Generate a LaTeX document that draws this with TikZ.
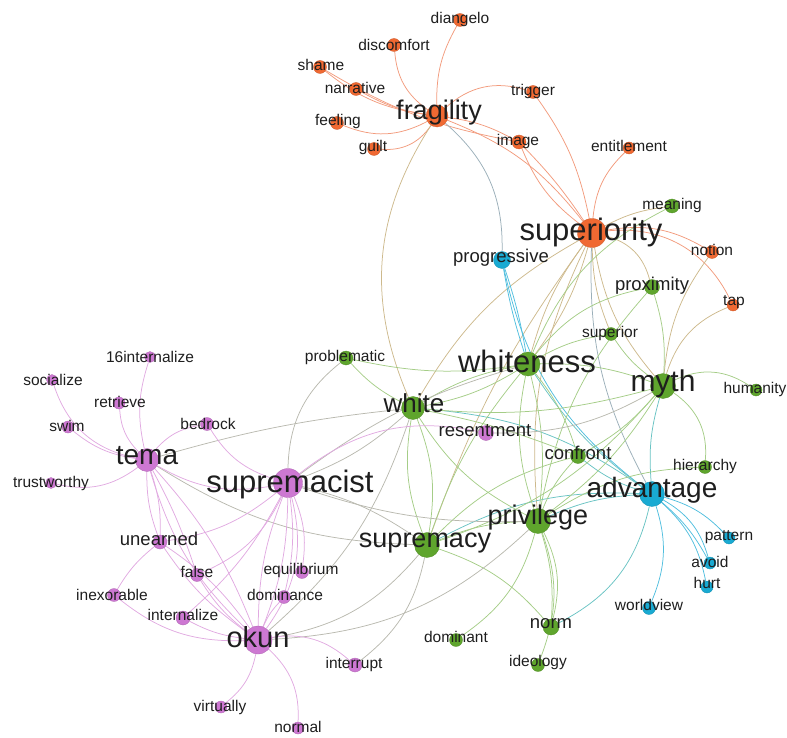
\documentclass[tikz,border=0pt]{standalone}
\usepackage{fontspec}
\setmainfont{Liberation Sans}
\pgfdeclarelayer{edges}
\pgfsetlayers{edges,main}
\definecolor{corange}{RGB}{240,105,50}
\definecolor{cgreen}{RGB}{95,165,45}
\definecolor{cblue}{RGB}{25,170,210}
\definecolor{cpurple}{RGB}{205,120,210}
\definecolor{txt}{RGB}{30,30,30}
\definecolor{eoc}{RGB}{242,155,125}
\definecolor{egc}{RGB}{165,205,135}
\definecolor{etc}{RGB}{205,185,140}
\definecolor{epc}{RGB}{225,170,225}
\definecolor{egrc}{RGB}{185,185,175}
\definecolor{etlc}{RGB}{105,195,195}
\definecolor{ebc}{RGB}{80,190,222}
\definecolor{eboc}{RGB}{155,175,185}
\begin{document}
\begin{tikzpicture}[x=1pt,y=-1pt,
  nd/.style={circle,inner sep=0pt,minimum size=#1,line width=0.3pt},
  on/.style={nd=#1,fill=corange,draw=corange!85!black},
  gn/.style={nd=#1,fill=cgreen,draw=cgreen!85!black},
  bn/.style={nd=#1,fill=cblue,draw=cblue!85!black},
  pn/.style={nd=#1,fill=cpurple,draw=cpurple!85!black},
  ls/.style={font=\fontsize{15.5}{15.5}\selectfont,text=txt,inner sep=0pt},
  lm/.style={font=\fontsize{18.5}{18.5}\selectfont,text=txt,inner sep=0pt},
  lb/.style={font=\fontsize{#1}{#1}\selectfont,text=txt,inner sep=0pt},
  ed/.style={line width=0.75pt},
  eo/.style={ed,draw=eoc},
  eg/.style={ed,draw=egc},
  et/.style={ed,draw=etc},
  ep/.style={ed,draw=epc},
  egr/.style={ed,draw=egrc},
  etl/.style={ed,draw=etlc},
  eb/.style={ed,draw=ebc},
  ebo/.style={ed,draw=eboc}]
\useasboundingbox (0,0) rectangle (787,738);
% ---------- nodes: orange
\node[on=22] (fragility) at (437,116) {};
\node[on=13] (diangelo) at (460,20) {};
\node[on=13] (discomfort) at (394,45) {};
\node[on=13] (shame) at (320,67) {};
\node[on=13] (narrative) at (356,89) {};
\node[on=13] (feeling) at (337,123) {};
\node[on=13] (guilt) at (374,149) {};
\node[on=13] (trigger) at (533,92) {};
\node[on=14] (image) at (519,142) {};
\node[on=12] (entitlement) at (629,148) {};
\node[on=29] (superiority) at (592,233) {};
\node[on=13] (notion) at (712,252) {};
\node[on=12] (tap) at (733,305) {};
% blue
\node[bn=17] (progressive) at (502,260) {};
\node[bn=25] (advantage) at (652,494) {};
\node[bn=12] (pattern) at (729,538) {};
\node[bn=12] (avoid) at (710,563) {};
\node[bn=12] (hurt) at (707,587) {};
\node[bn=13] (worldview) at (649,608) {};
% green
\node[gn=14] (meaning) at (672,206) {};
\node[gn=15] (proximity) at (652,287) {};
\node[gn=13] (superior) at (611,334) {};
\node[gn=24] (whiteness) at (528,364) {};
\node[gn=25] (myth) at (663,386) {};
\node[gn=12] (humanity) at (756,390) {};
\node[gn=14] (problematic) at (346,358) {};
\node[gn=23] (white) at (413,408) {};
\node[gn=15] (confront) at (578,456) {};
\node[gn=13] (hierarchy) at (705,467) {};
\node[gn=25] (privilege) at (538,521) {};
\node[gn=25] (supremacy) at (427,545) {};
\node[gn=16] (norm) at (551,627) {};
\node[gn=13] (dominant) at (456,640) {};
\node[gn=13] (ideology) at (538,665) {};
% purple
\node[pn=11] (internalizeA) at (150,357) {};
\node[pn=11] (socialize) at (52,380) {};
\node[pn=12] (retrieve) at (119,403) {};
\node[pn=12] (swim) at (68,427) {};
\node[pn=13] (bedrock) at (207,424) {};
\node[pn=23] (tema) at (147,460) {};
\node[pn=11] (trustworthy) at (51,483) {};
\node[pn=29] (supremacist) at (288,483) {};
\node[pn=15] (resentment) at (486,433) {};
\node[pn=14] (unearned) at (160,542) {};
\node[pn=13] (false) at (197,575) {};
\node[pn=13] (equilibrium) at (302,572) {};
\node[pn=13] (inexorable) at (114,595) {};
\node[pn=13] (dominance) at (284,597) {};
\node[pn=14] (internalize) at (183,618) {};
\node[pn=28] (okun) at (258,640) {};
\node[pn=14] (interrupt) at (355,665) {};
\node[pn=12] (virtually) at (221,707) {};
\node[pn=12] (normal) at (298,728) {};
% ---------- labels
\node[lb=27] (fragility-t) at (439,113) {fragility};
\node[ls] (diangelo-t) at (460,19) {diangelo};
\node[ls] (discomfort-t) at (394,45) {discomfort};
\node[ls] (shame-t) at (321,65) {shame};
\node[ls] (narrative-t) at (355,88) {narrative};
\node[ls] (feeling-t) at (338,121) {feeling};
\node[ls] (guilt-t) at (373,147) {guilt};
\node[ls] (trigger-t) at (533,91) {trigger};
\node[ls] (image-t) at (518,141) {image};
\node[ls] (entitlement-t) at (629,146) {entitlement};
\node[lb=31] (superiority-t) at (591,232) {superiority};
\node[ls] (notion-t) at (712,250) {notion};
\node[ls] (tap-t) at (734,302) {tap};
\node[lm] (progressive-t) at (501,258) {progressive};
\node[lb=28] (advantage-t) at (652,490) {advantage};
\node[ls] (pattern-t) at (729,537) {pattern};
\node[ls] (avoid-t) at (710,562) {avoid};
\node[ls] (hurt-t) at (707,583) {hurt};
\node[ls] (worldview-t) at (649,605) {worldview};
\node[ls] (meaning-t) at (672,205) {meaning};
\node[lm] (proximity-t) at (652,286) {proximity};
\node[ls] (superior-t) at (610,333) {superior};
\node[lb=31] (whiteness-t) at (527,361) {whiteness};
\node[lb=30] (myth-t) at (663,384) {myth};
\node[ls] (humanity-t) at (755,389) {humanity};
\node[ls] (problematic-t) at (345,357) {problematic};
\node[lb=26] (white-t) at (414,403) {white};
\node[lm] (confront-t) at (578,453) {confront};
\node[ls] (hierarchy-t) at (705,466) {hierarchy};
\node[lb=27] (privilege-t) at (538,518) {privilege};
\node[lb=27] (supremacy-t) at (425,543) {supremacy};
\node[lm] (norm-t) at (551,624) {norm};
\node[ls] (dominant-t) at (456,637) {dominant};
\node[ls] (ideology-t) at (538,662) {ideology};
\node[ls] (internalizeA-t) at (150,357) {16internalize};
\node[ls] (socialize-t) at (53,380) {socialize};
\node[ls] (retrieve-t) at (120,402) {retrieve};
\node[ls] (swim-t) at (67,426) {swim};
\node[ls] (bedrock-t) at (208,424) {bedrock};
\node[lb=28] (tema-t) at (147,456) {tema};
\node[ls] (trustworthy-t) at (51,483) {trustworthy};
\node[lb=31] (supremacist-t) at (290,484) {supremacist};
\node[lm] (resentment-t) at (485,431) {resentment};
\node[lm] (unearned-t) at (159,539) {unearned};
\node[ls] (false-t) at (197,572) {false};
\node[ls] (equilibrium-t) at (301,570) {equilibrium};
\node[ls] (inexorable-t) at (112,595) {inexorable};
\node[ls] (dominance-t) at (285,595) {dominance};
\node[ls] (internalize-t) at (183,615) {internalize};
\node[lb=29] (okun-t) at (258,637) {okun};
\node[ls] (interrupt-t) at (354,664) {interrupt};
\node[ls] (virtually-t) at (220,707) {virtually};
\node[ls] (normal-t) at (298,727) {normal};
% ---------- edges
\begin{pgfonlayer}{edges}
% orange
\draw[eo] (fragility) to[bend left=15] (diangelo);
\draw[eo] (discomfort) to[bend right=25] (fragility);
\draw[eo] (shame) to[bend right=15] (fragility);
\draw[eo] (shame) to[bend right=10] (image);
\draw[eo] (narrative) to[bend right=10] (fragility);
\draw[eo] (feeling) to[bend right=25] (fragility);
\draw[eo] (guilt) to[bend right=30] (fragility);
\draw[eo] (fragility) to[bend left=30] (trigger);
\draw[eo] (fragility) to[bend left=10] (image);
\draw[eo] (fragility) to[bend left=15] (superiority);
\draw[eo] (trigger) to[bend left=12] (superiority);
\draw[eo] (image) to[bend right=15] (superiority);
\draw[eo] (image) to[bend left=5] (superiority);
\draw[eo] (entitlement) to[bend right=20] (superiority);
\draw[eo] (superiority) to[bend left=20] (notion);
\draw[eo] (superiority) to[bend left=35] (tap);
% tan
\draw[et] (notion) to[bend right=15] (myth);
\draw[et] (tap) to[bend right=25] (myth);
\draw[et] (superiority) to[bend left=10] (meaning);
\draw[et] (superiority) to[bend left=30] (proximity);
\draw[et] (superiority) to[bend right=15] (myth);
\draw[et] (superiority) to[bend right=10] (superior);
\draw[et] (superiority) to[bend left=10] (whiteness);
\draw[et] (superiority) to[bend right=10] (whiteness);
\draw[et] (superiority) to[bend right=15] (white);
\draw[et] (superiority) to[bend right=15] (privilege);
\draw[et] (superiority) to[bend right=8] (supremacy);
\draw[et] (fragility) to[bend right=28] (white);
% blue-orange
\draw[ebo] (fragility) to[bend left=25] (progressive);
\draw[ebo] (superiority) to[bend right=15] (advantage);
% blue
\draw[eb] (progressive) to[bend left=4] (whiteness);
\draw[eb] (progressive) to[bend right=4] (whiteness);
\draw[eb] (progressive) to[bend right=20] (advantage);
\draw[eb] (advantage) to[bend left=15] (pattern);
\draw[eb] (advantage) to[bend left=10] (avoid);
\draw[eb] (advantage) to[bend left=22] (avoid);
\draw[eb] (advantage) to[bend left=18] (hurt);
\draw[eb] (advantage) to[bend left=20] (worldview);
\draw[etl] (norm) to[bend right=25] (advantage);
% teal
\draw[etl] (whiteness) to[bend right=10] (advantage);
\draw[etl] (white) to[bend left=15] (advantage);
\draw[etl] (supremacy) to[bend left=15] (advantage);
\draw[etl] (privilege) to[bend left=10] (advantage);
\draw[etl] (confront) to[bend right=10] (advantage);
\draw[etl] (myth) to[bend right=10] (advantage);
% green
\draw[eg] (privilege) to[bend left=15] (hierarchy);
\draw[eg] (whiteness) to[bend left=10] (white);
\draw[eg] (whiteness) to[bend right=10] (white);
\draw[eg] (problematic) to[bend right=10] (white);
\draw[eg] (problematic) to[bend right=10] (whiteness);
\draw[eg] (whiteness) to[bend left=10] (myth);
\draw[eg] (whiteness) to[bend right=15] (privilege);
\draw[eg] (whiteness) to[bend left=10] (privilege);
\draw[eg] (whiteness) to[bend right=10] (supremacy);
\draw[eg] (whiteness) to[bend left=10] (confront);
\draw[eg] (whiteness) to[bend left=10] (superior);
\draw[eg] (whiteness) to[bend left=20] (proximity);
\draw[eg] (whiteness) to[bend left=20] (meaning);
\draw[eg] (myth) to[bend left=30] (humanity);
\draw[eg] (myth) to[bend left=30] (hierarchy);
\draw[eg] (myth) to[bend left=10] (white);
\draw[eg] (myth) to[bend left=15] (supremacy);
\draw[eg] (myth) to[bend left=10] (privilege);
\draw[eg] (myth) to[bend right=10] (proximity);
\draw[eg] (myth) to[bend left=10] (superior);
\draw[eg] (myth) to[bend left=10] (confront);
\draw[eg] (white) to[bend right=15] (privilege);
\draw[eg] (white) to[bend right=15] (supremacy);
\draw[eg] (white) to[bend left=15] (supremacy);
\draw[eg] (white) to[bend left=5] (confront);
\draw[eg] (supremacy) to[bend left=10] (privilege);
\draw[eg] (supremacy) to[bend left=15] (norm);
\draw[eg] (dominant) to[bend right=20] (privilege);
\draw[eg] (privilege) to[bend left=10] (norm);
\draw[eg] (privilege) to[bend left=20] (norm);
\draw[eg] (privilege) to[bend left=20] (ideology);
\draw[eg] (supremacy) to[bend left=15] (confront);
\draw[eg] (privilege) to[bend left=10] (confront);
\draw[eg] (proximity) to[bend right=15] (privilege);
% gray
\draw[egr] (whiteness) to[bend right=10] (supremacist);
\draw[egr] (problematic) to[bend right=25] (supremacist);
\draw[egr] (white) to[bend left=10] (supremacist);
\draw[egr] (supremacy) to[bend right=10] (supremacist);
\draw[egr] (okun) to[bend right=20] (supremacy);
\draw[egr] (okun) to[bend right=20] (privilege);
\draw[egr] (tema) to[bend right=15] (supremacy);
\draw[egr] (tema) to[bend left=5] (white);
\draw[egr] (interrupt) to[bend right=20] (supremacy);
\draw[egr] (okun) to[bend right=15] (white);
\draw[egr] (supremacist) to[bend right=10] (privilege);
\draw[egr] (resentment) to[bend right=15] (myth);
% pink
\draw[ep] (supremacist) to[bend left=25] (resentment);
\draw[ep] (internalizeA) to[bend right=15] (tema);
\draw[ep] (retrieve) to[bend right=20] (tema);
\draw[ep] (socialize) to[bend right=30] (tema);
\draw[ep] (swim) to[bend right=15] (tema);
\draw[ep] (trustworthy) to[bend right=25] (tema);
\draw[ep] (tema) to[bend left=20] (bedrock);
\draw[ep] (bedrock) to[bend right=20] (supremacist);
\draw[ep] (tema) to[bend right=20] (supremacist);
\draw[ep] (tema) to[bend left=10] (unearned);
\draw[ep] (tema) to[bend right=10] (unearned);
\draw[ep] (tema) to[bend right=15] (okun);
\draw[ep] (tema) to[bend left=10] (okun);
\draw[ep] (tema) to[bend left=5] (false);
\draw[ep] (unearned) to[bend left=10] (okun);
\draw[ep] (unearned) to[bend right=10] (okun);
\draw[ep] (unearned) to[bend right=10] (inexorable);
\draw[ep] (unearned) to[bend right=15] (supremacist);
\draw[ep] (false) to[bend right=20] (supremacist);
\draw[ep] (false) to[bend right=10] (okun);
\draw[ep] (internalize) to[bend right=10] (okun);
\draw[ep] (internalize) to[bend right=10] (supremacist);
\draw[ep] (inexorable) to[bend right=20] (okun);
\draw[ep] (equilibrium) to[bend right=15] (supremacist);
\draw[ep] (dominance) to[bend right=10] (supremacist);
\draw[ep] (dominance) to[bend right=10] (okun);
\draw[ep] (supremacist) to[bend left=10] (okun);
\draw[ep] (supremacist) to[bend right=10] (okun);
\draw[ep] (supremacist) to[bend left=25] (okun);
\draw[ep] (okun) to[bend left=25] (interrupt);
\draw[ep] (okun) to[bend left=20] (virtually);
\draw[ep] (okun) to[bend left=25] (normal);
\end{pgfonlayer}
\end{tikzpicture}
\end{document}
